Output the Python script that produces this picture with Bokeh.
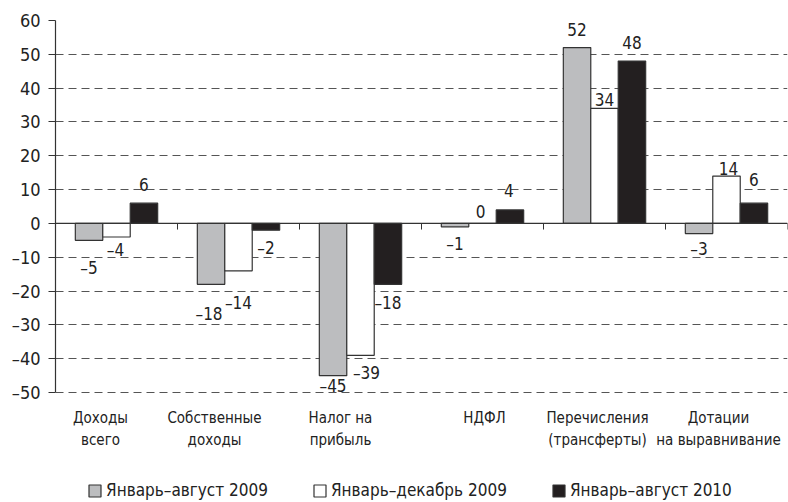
from bokeh.plotting import figure
from bokeh.models import (ColumnDataSource, FixedTicker, CustomJSTickFormatter, Span,
                          Legend, LegendItem, Label)
from bokeh.core.properties import value
from bokeh.embed import file_html
from bokeh.resources import INLINE

# ---- data ----
categories = ["Доходы\nвсего", "Собственные\nдоходы", "Налог на\nприбыль", "НДФЛ",
              "Перечисления\n(трансферты)", "Дотации\nна выравнивание"]
series_names = ["Январь–август 2009", "Январь–декабрь 2009", "Январь–август 2010"]
jan_aug_2009 = [-5, -18, -45, -1, 52, -3]
jan_dec_2009 = [-4, -14, -39, 0, 34, 14]
jan_aug_2010 = [6, -2, -18, 4, 48, 6]
y_ticks = [-50, -40, -30, -20, -10, 0, 10, 20, 30, 40, 50, 60]

# ---- styling / layout (not data) ----
FONT = "DejaVu Sans Condensed, Liberation Sans Narrow, sans-serif"
fills = ["#bcbdbf", "#ffffff", "#231f20"]
shifts = [-0.225, 0.0, 0.225]
bar_w = 0.225
# label offsets in px (dx right, dy down) relative to bar end
lab_dx = [[0, -2, 0, 0, 0, 0], [-1, 0, 6, -2, 0, 2], [0, 0, 0, -1, 0, 0]]
lab_dy = [[28, 30, 10, 17, -18, 15], [13, 32, 18, -12, -9, -8], [-19, 18, 19, -19, -19, -24]]
cat_dx = [-16, -24, -20, 2, -7, -8]
Y_BOTTOM = -82.5  # frame extends below the axis so the labels and legend are inside it

p = figure(width=788, height=502, x_range=(0, len(categories)), y_range=(Y_BOTTOM, 60),
           output_backend="svg", toolbar_location=None, tools="")
p.min_border = 0
p.min_border_left = 55
p.min_border_right = 1
p.min_border_top = 20
p.min_border_bottom = 0
p.outline_line_color = None
p.background_fill_color = "white"

p.xaxis.visible = False
p.xgrid.visible = False
p.ygrid.ticker = FixedTicker(ticks=y_ticks)
p.ygrid.grid_line_color = "#555555"
p.ygrid.grid_line_dash = "8 5"
p.ygrid.grid_line_width = 1

ya = p.yaxis[0]
ya.ticker = FixedTicker(ticks=y_ticks)
ya.bounds = (-50, 60)
ya.formatter = CustomJSTickFormatter(code="return tick < 0 ? '\u2013' + Math.abs(tick) : String(tick);")
ya.axis_line_color = "#333333"
ya.axis_line_width = 1.2
ya.major_tick_line_color = "#333333"
ya.major_tick_out = 7
ya.major_tick_in = 0
ya.minor_tick_line_color = None
ya.major_label_standoff = 8
ya.major_label_text_font = FONT
ya.major_label_text_font_size = "18px"
ya.major_label_text_color = "#222222"

series = [jan_aug_2009, jan_dec_2009, jan_aug_2010]
renderers = []
for k, vals in enumerate(series):
    xs = [i + 0.5 + shifts[k] for i in range(len(categories))]
    src = ColumnDataSource(dict(x=xs, top=vals))
    r = p.vbar(x="x", top="top", bottom=0, width=bar_w, source=src,
               fill_color=fills[k], line_color="#333333", line_width=1.2)
    renderers.append(r)

# zero axis line with category boundary ticks
p.add_layout(Span(location=0, dimension="width", line_color="#333333", line_width=1.3))
bx = [i + 1 for i in range(len(categories))]
p.segment(x0=bx, y0=[0] * len(bx), x1=bx, y1=[-1.8] * len(bx), line_color="#333333", line_width=1)

# data labels
for k, vals in enumerate(series):
    xs = [i + 0.5 + shifts[k] for i in range(len(categories))]
    txt = [("\u2013" + str(abs(v))) if v < 0 else str(v) for v in vals]
    src = ColumnDataSource(dict(x=xs, y=vals, text=txt, dx=lab_dx[k], dy=lab_dy[k]))
    p.text(x="x", y="y", text="text", x_offset="dx", y_offset="dy", source=src,
           text_align="center", text_baseline="middle", text_font=value(FONT),
           text_font_size="17px", text_color="#222222")

# category labels
for i, c in enumerate(categories):
    p.add_layout(Label(x=i + 0.5, y=-50, x_offset=cat_dx[i], y_offset=-16, text=c,
                       text_align="center", text_baseline="top", text_font=FONT,
                       text_font_size="15px", text_color="#222222", text_line_height=1.25))

legend = Legend(items=[LegendItem(label=series_names[k], renderers=[renderers[k]]) for k in range(3)],
                orientation="horizontal", location=(32, 2), glyph_width=15, glyph_height=15,
                label_standoff=4, spacing=44, padding=0, margin=0,
                border_line_alpha=0, background_fill_alpha=0,
                label_text_font=FONT, label_text_font_size="17px", label_text_color="#222222")
p.add_layout(legend)

open("out.html", "w").write(file_html(p, INLINE))
